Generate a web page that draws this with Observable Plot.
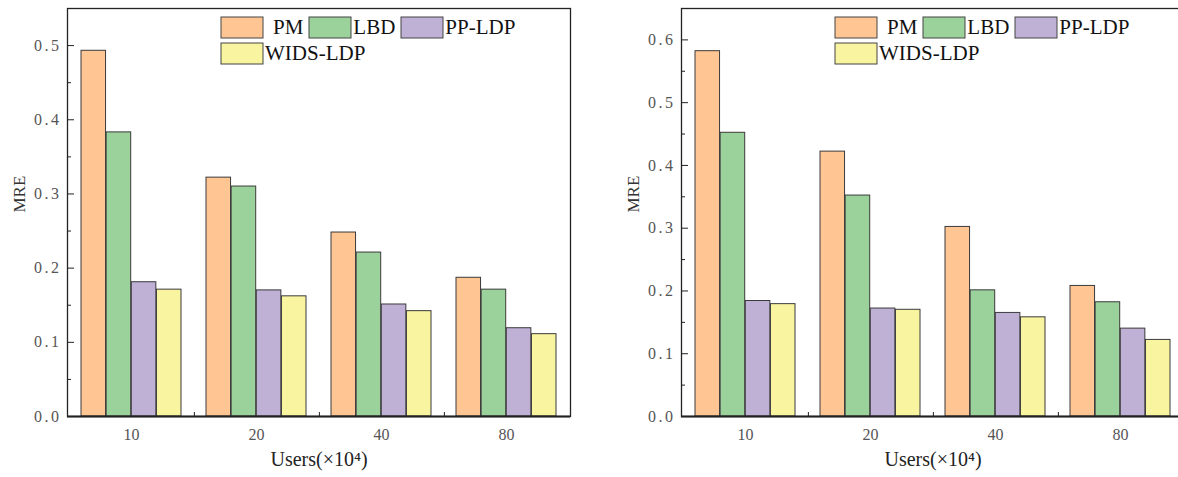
<!DOCTYPE html>
<html>
<head>
<meta charset="utf-8">
<script src="https://cdn.jsdelivr.net/npm/d3@7"></script>
<script src="https://cdn.jsdelivr.net/npm/@observablehq/plot@0.6"></script>
<style>
html, body { margin: 0; padding: 0; background: #fff; }
#wrap { position: relative; width: 1178px; height: 477px; overflow: hidden; }
.panel { position: absolute; top: 0; width: 614px; height: 477px; }
.panel svg { max-width: none; font-family: "Liberation Serif", "DejaVu Serif", serif; }
.panel svg text { font-family: "Liberation Serif", "DejaVu Serif", serif; }
.panel svg [aria-label="y-axis tick label"] text { letter-spacing: 2.5px; }
.lg-swatches { position: absolute; top: 17px; width: 330px; font-family: "Liberation Serif", "DejaVu Serif", serif; font-size: 21px; color: #111; margin: 0; min-height: 0; row-gap: 5px; align-items: flex-start; }
.lg-swatches .lg-swatch { margin-right: 6px; height: 21px; line-height: 21px; font-family: "Liberation Serif", "DejaVu Serif", serif; }
.lg-swatches .lg-swatch > svg { margin-right: 2px; }
.lg-swatches span.lg-swatch:first-of-type > svg { margin-right: 10px; }
.lg-swatch rect { stroke: #444; stroke-width: 1; }
</style>
</head>
<body>
<div id="wrap"></div>
<script>
// ---- data ----
const groups = ["10", "20", "40", "80"];
const methods = ["PM", "LBD", "PP-LDP", "WIDS-LDP"];
const colors = ["#FFC592", "#9BD19A", "#BFB0D6", "#F8F49F"];

const leftPM   = [0.493, 0.322, 0.248, 0.187];
const leftLBD  = [0.383, 0.310, 0.221, 0.171];
const leftPP   = [0.181, 0.170, 0.151, 0.119];
const leftWIDS = [0.171, 0.162, 0.142, 0.111];

const rightPM   = [0.582, 0.422, 0.302, 0.208];
const rightLBD  = [0.452, 0.352, 0.201, 0.182];
const rightPP   = [0.184, 0.172, 0.165, 0.140];
const rightWIDS = [0.179, 0.170, 0.158, 0.122];

const yTicksLeft  = [0, 0.1, 0.2, 0.3, 0.4, 0.5];
const yTicksRight = [0, 0.1, 0.2, 0.3, 0.4, 0.5, 0.6];
const yLabel = "MRE";
const xLabel = "Users(×10⁴)";

function makePanel(series, yMax, majorTicks, left) {
  const W = 614, H = 477, ml = 67, mr = 44, mt = 8, mb = 61;
  const pIn = 0.2, pOut = 0.1;
  const plotW = W - ml - mr, plotH = H - mt - mb;
  const step = plotW / (groups.length - pIn + 2 * pOut);
  const sub = step * (1 - pIn) / methods.length;
  const data = [];
  methods.forEach((m, i) => groups.forEach((g, j) => data.push({group: g, method: m, value: series[i][j]})));
  const minorTicks = d3.range(0.05, yMax - 0.01, 0.1);

  const plot = Plot.plot({
    width: W, height: H,
    marginLeft: ml, marginRight: mr, marginTop: mt, marginBottom: mb,
    style: {fontFamily: "'Liberation Serif', serif", background: "#fff"},
    x: {domain: groups, paddingInner: pIn, paddingOuter: pOut, axis: null},
    y: {domain: [0, yMax], axis: null},
    color: {domain: methods, range: colors},
    marks: [
      ...methods.map((m, i) => Plot.barY(data.filter(d => d.method === m), {
        x: "group", y: "value", fill: "method",
        stroke: "#3a3a3a", strokeWidth: 1,
        insetLeft: i * sub, insetRight: (methods.length - 1 - i) * sub
      })),
      Plot.ruleY(majorTicks, {stroke: "#222", insetRight: plotW - 7}),
      Plot.ruleY(minorTicks, {stroke: "#222", insetRight: plotW - 4}),
      Plot.ruleX(groups.slice(0, -1), {x: d => d, dx: step / 2, stroke: "#222", insetTop: plotH - 4}),
      Plot.frame({stroke: "#222", strokeWidth: 1.3}),
      Plot.ruleY([0], {stroke: "#222", strokeWidth: 2}),
      Plot.axisY(majorTicks, {tickSize: 0, tickPadding: 6, tickFormat: d3.format(".1f"), fontSize: 16, fill: "#555", label: null}),
      Plot.axisX({tickSize: 0, tickPadding: 12, fontSize: 16, fill: "#555", label: null}),
      Plot.text([yLabel], {text: d => d, frameAnchor: "left", rotate: -90, dx: -48, fontSize: 17, fill: "#333"}),
      Plot.text([xLabel], {text: d => d, frameAnchor: "bottom", dy: 49, fontSize: 20, fill: "#222"})
    ]
  });
  const div = document.createElement("div");
  div.className = "panel";
  div.style.left = left + "px";
  div.appendChild(plot);
  document.getElementById("wrap").appendChild(div);

  const lg = Plot.legend({color: {domain: methods, range: colors}, legend: "swatches", swatchWidth: 42, swatchHeight: 21, className: "lg"});
  lg.style.left = (left + 221) + "px";
  document.getElementById("wrap").appendChild(lg);
}

makePanel([leftPM, leftLBD, leftPP, leftWIDS], 0.55, yTicksLeft, 0);
makePanel([rightPM, rightLBD, rightPP, rightWIDS], 0.65, yTicksRight, 614);
</script>
</body>
</html>
